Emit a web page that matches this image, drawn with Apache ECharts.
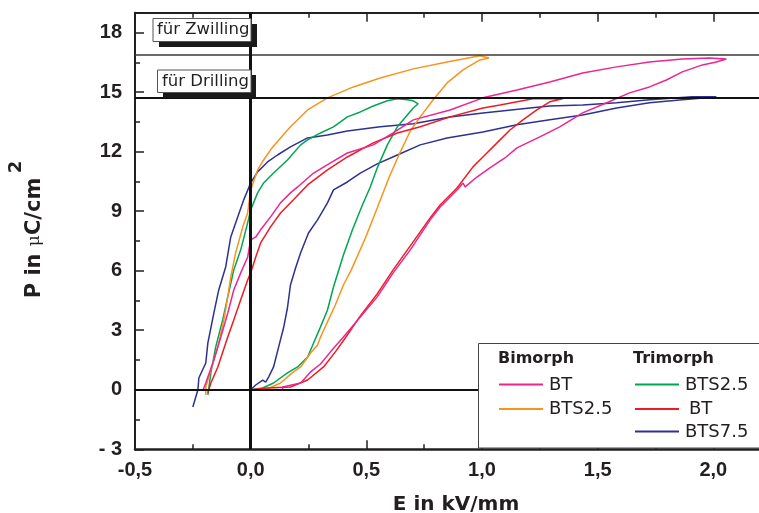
<!DOCTYPE html>
<html>
<head>
<meta charset="utf-8">
<script src="https://cdn.jsdelivr.net/npm/echarts@6/dist/echarts.min.js"></script>
<style>
html,body{margin:0;padding:0;background:#fff}
#chart{width:759px;height:513px}
</style>
</head>
<body>
<div id="chart"></div>
<script>
// tick labels (comma decimals as in the original)
var xTicks = [-0.5, 0, 0.5, 1, 1.5, 2];
var xTickLabels = ['-0,5', '0,0', '0,5', '1,0', '1,5', '2,0'];
var yTicks = [-3, 0, 3, 6, 9, 12, 15, 18];
var yTickLabels = ['- 3', '0', '3', '6', '9', '12', '15', '18'];

// reference levels
var zwillingLevel = 16.88;
var drillingLevel = 14.73;

// [E in kV/mm, P in uC/cm2]
var bimorphBT = [
  [0,0],[0.138,0],[0.138,0.14],[0.216,0.34],[0.259,0.90],[0.302,1.30],[0.345,1.91],[0.401,2.66],
  [0.474,3.67],[0.547,4.68],[0.616,5.89],[0.690,7.05],[0.776,8.56],[0.819,9.21],[0.892,10.07],
  [0.918,10.42],[0.927,10.22],[0.978,10.72],[1.034,11.18],[1.099,11.68],[1.151,12.19],[1.250,12.74],
  [1.336,13.25],[1.435,13.95],[1.539,14.46],[1.638,14.96],[1.724,15.26],[1.797,15.61],[1.866,16.02],
  [1.953,16.37],[2.013,16.52],[2.056,16.67],
  [1.983,16.72],[1.866,16.67],[1.724,16.52],[1.582,16.27],[1.435,15.96],[1.293,15.51],[1.151,15.11],
  [1.004,14.71],[0.862,14.10],[0.703,13.60],[0.616,12.94],[0.530,12.34],[0.418,11.93],[0.345,11.43],
  [0.272,10.92],[0.203,10.22],[0.172,9.92],[0.129,9.42],[0.086,8.71],[0.043,8.06],[0.022,7.70],
  [0,7.55],[-0.013,6.69],[-0.043,5.89],[-0.073,5.03],[-0.099,3.87],[-0.129,2.66],[-0.159,1.50],
  [-0.194,0.34],[-0.207,-0.06]
];
var bimorphBTS25 = [
  [0,0],[0.065,0],[0.129,0.34],[0.185,0.90],[0.216,1.15],[0.259,1.85],[0.289,2.26],[0.302,2.66],
  [0.336,3.52],[0.366,4.27],[0.401,5.28],[0.435,6.04],[0.496,7.65],[0.547,9.16],[0.599,10.72],
  [0.647,11.99],[0.690,13.04],[0.733,13.75],[0.789,14.61],[0.849,15.46],[0.918,16.12],[0.991,16.62],
  [1.030,16.72],
  [0.991,16.83],[0.849,16.52],[0.703,16.17],[0.560,15.71],[0.444,15.26],[0.332,14.71],[0.246,14.10],
  [0.172,13.25],[0.129,12.69],[0.086,12.09],[0.056,11.58],[0.030,11.08],[0,10.07],[-0.013,8.91],
  [-0.034,8.21],[-0.065,6.90],[-0.086,5.69],[-0.099,4.68],[-0.116,3.52],[-0.142,2.16],[-0.172,1.00],
  [-0.194,0.14],[-0.194,-0.26]
];
var trimorphBTS25 = [
  [0,0],[0.052,0.09],[0.099,0.34],[0.159,0.85],[0.203,1.15],[0.246,1.65],[0.272,2.36],[0.302,3.17],
  [0.332,4.02],[0.358,5.18],[0.401,6.79],[0.440,8.06],[0.483,9.31],[0.517,10.22],[0.547,11.18],
  [0.591,12.34],[0.634,13.25],[0.677,13.85],[0.703,14.20],[0.724,14.41],
  [0.703,14.56],[0.677,14.61],[0.634,14.66],[0.591,14.56],[0.530,14.30],[0.474,14.00],[0.418,13.75],
  [0.358,13.25],[0.302,12.94],[0.246,12.59],[0.216,12.34],[0.159,11.58],[0.099,10.92],[0.056,10.42],
  [0.030,9.92],[0,9.06],[-0.013,8.41],[-0.043,7.05],[-0.073,6.04],[-0.099,4.68],[-0.121,3.52],
  [-0.151,2.16],[-0.172,0.85],[-0.185,-0.26]
];
var trimorphBT = [
  [0,0],[0.073,0.09],[0.172,0.14],[0.246,0.49],[0.315,1.15],[0.366,1.91],[0.409,2.61],[0.474,3.72],
  [0.547,4.83],[0.616,6.04],[0.690,7.25],[0.776,8.66],[0.819,9.31],[0.892,10.17],[0.961,11.23],
  [1.004,11.73],[1.065,12.44],[1.121,13.09],[1.177,13.60],[1.237,14.10],[1.293,14.51],[1.349,14.66],
  [1.293,14.66],[1.220,14.66],[1.078,14.35],[1.004,14.20],[0.862,13.75],[0.733,13.25],[0.634,12.94],
  [0.530,12.44],[0.418,11.73],[0.332,11.08],[0.246,10.32],[0.185,9.57],[0.129,8.91],[0.086,8.21],
  [0.043,7.40],[0.022,6.69],[0,5.89],[-0.013,5.53],[-0.043,4.53],[-0.073,3.52],[-0.099,2.66],
  [-0.142,1.15],[-0.172,0.34],[-0.185,-0.16]
];
var trimorphBTS75 = [
  [0,0],[0.022,0.24],[0.052,0.49],[0.065,0.39],[0.078,0.65],[0.099,1.15],[0.121,2.16],[0.142,3.11],
  [0.159,4.12],[0.172,5.28],[0.194,6.14],[0.216,6.90],[0.250,7.90],[0.289,8.56],[0.332,9.42],
  [0.358,10.07],[0.418,10.47],[0.474,10.92],[0.547,11.38],[0.634,11.83],[0.733,12.34],[0.849,12.69],
  [1.004,12.99],[1.151,13.35],[1.293,13.60],[1.435,13.85],[1.582,14.20],[1.724,14.46],[1.866,14.61],
  [1.970,14.71],[2.013,14.76],
  [1.909,14.76],[1.724,14.61],[1.582,14.46],[1.435,14.35],[1.293,14.30],[1.207,14.20],[1.004,13.95],
  [0.862,13.75],[0.703,13.40],[0.560,13.25],[0.418,13.04],[0.332,12.84],[0.246,12.69],[0.172,12.24],
  [0.116,11.83],[0.073,11.48],[0.030,10.98],[0,10.42],[-0.030,9.57],[-0.056,8.71],[-0.086,7.70],
  [-0.108,6.19],[-0.138,5.03],[-0.159,3.87],[-0.185,2.36],[-0.194,1.35],[-0.224,0.59],[-0.228,0],
  [-0.250,-0.87]
];

var cPink = '#ec268f', cOrange = '#f7941d', cGreen = '#00a651', cRed = '#ed1c24', cBlue = '#2e3192';
var ink = '#231f20';

function pickLabel(ticks, labels) {
  return function (v) {
    for (var i = 0; i < ticks.length; i++) {
      if (Math.abs(ticks[i] - v) < 1e-6) return labels[i];
    }
    return '';
  };
}

function curve(name, data, color) {
  return {
    name: name, type: 'line', data: data, z: 3,
    showSymbol: false, symbol: 'none', smooth: false,
    lineStyle: { color: color, width: 1.5 },
    animation: false
  };
}

var myChart = echarts.init(document.getElementById('chart'));

var tickStyle = { show: true, inside: true, length: 9, lineStyle: { color: ink, width: 1.5 } };
var minorStyle = { show: true, splitNumber: 2, length: 5, lineStyle: { color: ink, width: 1.5 } };

var option = {
  animation: false,
  backgroundColor: '#fff',
  grid: { left: 135, top: 12.7, width: 694, height: 436.6, outerBoundsMode: 'none', containLabel: false },
  xAxis: [{
    type: 'value', min: -0.5, max: 2.5, interval: 0.5, position: 'bottom',
    axisLine: { show: true, onZero: false, lineStyle: { color: ink, width: 2.5 } },
    axisTick: tickStyle, minorTick: minorStyle, splitLine: { show: false },
    axisLabel: { margin: 11, color: ink, fontFamily: 'Liberation Sans', fontWeight: 'bold', fontSize: 20,
      formatter: pickLabel(xTicks, xTickLabels) },
    name: 'E in kV/mm', nameLocation: 'middle', nameGap: 45,
    nameTextStyle: { color: ink, fontFamily: 'DejaVu Sans', fontWeight: 'bold', fontSize: 20, padding: [0, 52, 0, 0] }
  }, {
    type: 'value', min: -0.5, max: 2.5, interval: 0.5, position: 'top',
    axisLine: { show: true, onZero: false, lineStyle: { color: ink, width: 2 } },
    axisTick: tickStyle, minorTick: minorStyle, splitLine: { show: false },
    axisLabel: { show: false }
  }],
  yAxis: [{
    type: 'value', min: -3, max: 19, interval: 3,
    axisLine: { show: true, onZero: false, lineStyle: { color: ink, width: 2 } },
    axisTick: tickStyle, minorTick: minorStyle, splitLine: { show: false },
    axisLabel: { margin: 13, color: ink, fontFamily: 'Liberation Sans', fontWeight: 'bold', fontSize: 20,
      formatter: pickLabel(yTicks, yTickLabels) }
  }],
  series: [
    {
      name: 'ref', type: 'line', data: [], z: 1, silent: true,
      markLine: {
        silent: true, symbol: 'none', animation: false, label: { show: false },
        data: [
          { yAxis: zwillingLevel, lineStyle: { color: '#3a3a3a', width: 1.5, type: 'solid' } },
          { yAxis: drillingLevel, lineStyle: { color: '#111', width: 2, type: 'solid' } },
          [{ coord: [-0.5, 0], lineStyle: { color: '#111', width: 2, type: 'solid' } }, { coord: [0.99, 0] }],
          { xAxis: 0, lineStyle: { color: '#111', width: 3, type: 'solid' } }
        ]
      }
    },
    curve('Trimorph BTS7.5', trimorphBTS75, cBlue),
    curve('Trimorph BTS2.5', trimorphBTS25, cGreen),
    curve('Bimorph BTS2.5', bimorphBTS25, cOrange),
    curve('Trimorph BT', trimorphBT, cRed),
    curve('Bimorph BT', bimorphBT, cPink)
  ],
  graphic: [
    // y axis title, rotated, with raised exponent
    { type: 'text', x: 35, y: 238, rotation: Math.PI / 2, z: 12,
      style: { text: '{b|P in }{mu|\u03bc}{b|C/cm}', align: 'center', verticalAlign: 'middle',
        rich: {
          b: { fill: ink, fontFamily: 'DejaVu Sans', fontWeight: 'bold', fontSize: 21 },
          mu: { fill: ink, fontFamily: 'DejaVu Serif', fontSize: 17 }
        } } },
    { type: 'text', x: 16, y: 167, rotation: Math.PI / 2, z: 12,
      style: { text: '2', fill: ink, font: 'bold 18px "DejaVu Sans"', align: 'center', verticalAlign: 'middle' } },
    // annotation boxes with hard shadow
    { type: 'rect', shape: { x: 159, y: 24, width: 98, height: 23 }, style: { fill: '#1a1a1a' }, z: 10 },
    { type: 'rect', shape: { x: 153, y: 18.5, width: 98, height: 23 }, style: { fill: '#fff', stroke: '#555', lineWidth: 1 }, z: 11 },
    { type: 'text', x: 157, y: 30, style: { text: 'f\u00fcr Zwilling', fill: ink, font: '16.5px "DejaVu Sans"', verticalAlign: 'middle' }, z: 12 },
    { type: 'rect', shape: { x: 163, y: 75, width: 93, height: 23 }, style: { fill: '#1a1a1a' }, z: 10 },
    { type: 'rect', shape: { x: 157.5, y: 70, width: 93.5, height: 22.5 }, style: { fill: '#fff', stroke: '#555', lineWidth: 1 }, z: 11 },
    { type: 'text', x: 162, y: 81.5, style: { text: 'f\u00fcr Drilling', fill: ink, font: '16.5px "DejaVu Sans"', verticalAlign: 'middle' }, z: 12 },
    // legend box
    { type: 'rect', shape: { x: 478.5, y: 343.5, width: 300, height: 104.5 }, style: { fill: '#fff', stroke: '#444', lineWidth: 1 }, z: 10 },
    { type: 'text', x: 498, y: 359, style: { text: 'Bimorph', fill: ink, font: 'bold 16px "DejaVu Sans"', verticalAlign: 'middle' }, z: 12 },
    { type: 'text', x: 633, y: 359, style: { text: 'Trimorph', fill: ink, font: 'bold 16px "DejaVu Sans"', verticalAlign: 'middle' }, z: 12 },
    { type: 'line', shape: { x1: 499, y1: 384.5, x2: 543, y2: 384.5 }, style: { stroke: cPink, lineWidth: 2 }, z: 12 },
    { type: 'line', shape: { x1: 499, y1: 409, x2: 543, y2: 409 }, style: { stroke: cOrange, lineWidth: 2 }, z: 12 },
    { type: 'line', shape: { x1: 635, y1: 384.5, x2: 679, y2: 384.5 }, style: { stroke: cGreen, lineWidth: 2 }, z: 12 },
    { type: 'line', shape: { x1: 635, y1: 409, x2: 679, y2: 409 }, style: { stroke: cRed, lineWidth: 2 }, z: 12 },
    { type: 'line', shape: { x1: 635, y1: 431.5, x2: 679, y2: 431.5 }, style: { stroke: cBlue, lineWidth: 2 }, z: 12 },
    { type: 'text', x: 549, y: 385, style: { text: 'BT', fill: ink, font: '18px "DejaVu Sans"', verticalAlign: 'middle' }, z: 12 },
    { type: 'text', x: 549, y: 409.5, style: { text: 'BTS2.5', fill: ink, font: '18px "DejaVu Sans"', verticalAlign: 'middle' }, z: 12 },
    { type: 'text', x: 685, y: 385, style: { text: 'BTS2.5', fill: ink, font: '18px "DejaVu Sans"', verticalAlign: 'middle' }, z: 12 },
    { type: 'text', x: 689, y: 409.5, style: { text: 'BT', fill: ink, font: '18px "DejaVu Sans"', verticalAlign: 'middle' }, z: 12 },
    { type: 'text', x: 685, y: 432, style: { text: 'BTS7.5', fill: ink, font: '18px "DejaVu Sans"', verticalAlign: 'middle' }, z: 12 }
  ]
};

myChart.setOption(option);
</script>
</body>
</html>
